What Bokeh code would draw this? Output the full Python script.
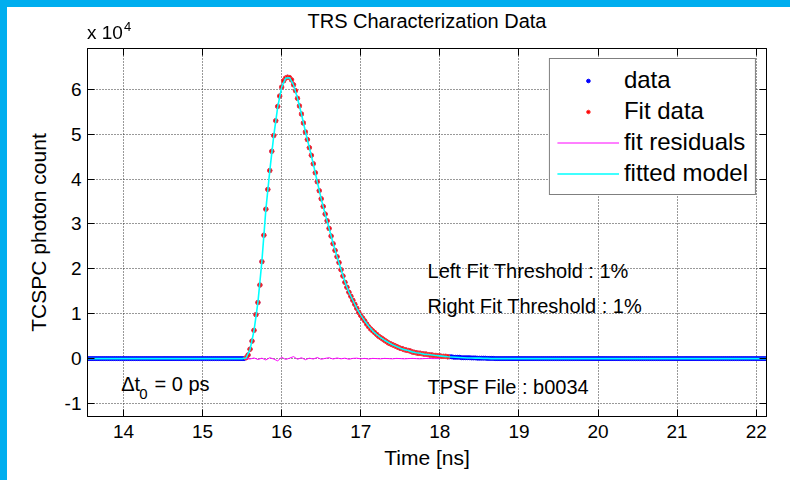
import numpy as np
from bokeh.plotting import figure
from bokeh.models import (Range1d, LinearAxis, FixedTicker, Label, Legend,
                          LegendItem, Div, CustomLabelingPolicy)
from bokeh.layouts import column
from bokeh.embed import file_html
from bokeh.resources import INLINE

FONT = "Liberation Sans"

TITLE = "TRS Characterization Data"

# ---------------- axes -----------------
x_ticks = [14, 15, 16, 17, 18, 19, 20, 21, 22]
y_ticks = [-10000, 0, 10000, 20000, 30000, 40000, 50000, 60000]
y_tick_labels = ["-1", "0", "1", "2", "3", "4", "5", "6"]
x_limits = [13.545, 22.13]
y_limits = [-12900, 69100]

# ---------------- data (photon counts) -----------------
BIN_NS = 0.025
data_start_ns = 13.55
data_end_ns = 22.125

# fit window, 0.025 ns bins starting at 15.55 ns
fit_start_ns = 15.55
fit_counts = [
    200, 800, 2100, 3900, 6300, 9800, 12500, 16400, 21600, 27500,
    33300, 37700, 41900, 46200, 49700, 53000, 56200, 58500, 60500, 61900,
    62500, 62700, 62600, 62100, 61000, 59700, 58000, 56300, 54500, 52500,
    50500, 48800, 47000, 45300, 43400, 41400, 39400, 37400, 35600, 33900,
    32200, 30700, 29000, 27300, 25600, 24100, 22700, 21400, 19800, 18400,
    17000, 15900, 14800, 13900, 13000, 12100, 11200, 10300, 9600, 9000,
    8400, 7700, 7100, 6600, 6200, 5800, 5400, 5000, 4700, 4400,
    4100, 3800, 3500, 3300, 3100, 2900, 2700, 2500, 2300, 2200,
    2000, 1900, 1800, 1700, 1500, 1400, 1300, 1200, 1200, 1100,
    1000, 1000, 900, 800, 800, 700, 700, 600, 600, 500,
    500, 500, 400,
]

# measured tail after the fit window, 0.025 ns bins from 18.125 ns
tail_start_ns = 18.125
tail_counts = [400, 400, 300, 300, 300, 300, 200, 200, 200, 200,
               200, 150, 150, 150, 100, 100, 100, 100, 100, 50,
               50, 50, 50, 0]

# fitted model, 0.05 ns steps from 15.50 ns
model_start_ns = 15.50
MODEL_STEP_NS = 0.05
model_counts = [
    0, 150, 2000, 6200, 12600, 21700, 33200, 41900, 49700, 56100,
    60500, 62500, 62600, 61000, 58000, 54500, 50600, 47000, 43400, 39400,
    35600, 32200, 29000, 25700, 22700, 19900, 17100, 14800, 13000, 11200,
    9700, 8400, 7200, 6200, 5400, 4700, 4100, 3600, 3100, 2700,
    2300, 2000, 1800, 1500, 1300, 1200, 1000, 900, 800, 700,
    600, 500, 400, 350, 300, 250, 200, 150, 150, 100,
    100, 50, 50, 0, 0,
]

# fit residuals, 0.05 ns steps from 15.55 ns
resid_start_ns = 15.55
RESID_STEP_NS = 0.05
resid_counts = [
    0, -100, 150, -200, 100, -300, 200, -100, -500, 300,
    -200, 100, 450, -150, 200, -250, 100, -100, 250, -150,
    50, 200, -100, 150, -50, 100, -150, 50, 100, -50,
    50, -100, 50, 0, -50, 50, 0, -50, 50, 0,
    -50, 0, 50, 0, -50, 0, 50, 0, 0, 0,
]

# ---------------- build series -----------------
n_data = int(round((data_end_ns - data_start_ns) / BIN_NS)) + 1
data_t = data_start_ns + BIN_NS * np.arange(n_data)
data_c = np.zeros(n_data)
i0 = int(round((fit_start_ns - data_start_ns) / BIN_NS))
data_c[i0:i0 + len(fit_counts)] = fit_counts
j0 = int(round((tail_start_ns - data_start_ns) / BIN_NS))
data_c[j0:j0 + len(tail_counts)] = tail_counts

fit_t = fit_start_ns + BIN_NS * np.arange(len(fit_counts))
model_t = np.concatenate([[x_limits[0]],
                          model_start_ns + MODEL_STEP_NS * np.arange(len(model_counts)),
                          [x_limits[1]]])
model_c = np.concatenate([[0], model_counts, [0]])
resid_t = resid_start_ns + RESID_STEP_NS * np.arange(len(resid_counts))

# ---------------- figure -----------------
p = figure(width=790, height=480, output_backend="svg", toolbar_location=None,
           x_range=Range1d(*x_limits), y_range=Range1d(*y_limits),
           min_border_left=87, min_border_right=24, min_border_top=48,
           min_border_bottom=64)
p.background_fill_color = "white"
p.border_fill_color = "white"
p.outline_line_color = "black"

bottom_ax = p.below[0]
left_ax = p.left[0]

r_data = p.scatter(data_t, data_c, size=4, marker="circle",
                   fill_color="#0000FF", line_color="#0000FF")
r_fit = p.scatter(fit_t, fit_counts, size=4.5, marker="circle",
                  fill_color="#FF0000", line_color="#FF4040")
r_res = p.line(resid_t, resid_counts, line_color="#FF00FF", line_width=1)
r_mod = p.line(model_t, model_c, line_color="#00FFFF", line_width=1.6)

top_ax = LinearAxis()
right_ax = LinearAxis()
p.add_layout(top_ax, "above")
p.add_layout(right_ax, "right")


def style_axis(ax, ticks, labels):
    ax.ticker = FixedTicker(ticks=ticks)
    ax.major_tick_in = 7
    ax.major_tick_out = 0
    ax.minor_tick_line_color = None
    ax.axis_line_color = "black"
    ax.major_tick_line_color = "black"
    ax.major_label_text_font = FONT
    ax.major_label_text_color = "black"
    ax.major_label_text_font_size = "19px"
    if not labels:
        ax.major_label_policy = CustomLabelingPolicy(code="return []")
        ax.major_label_text_font_size = "0px"
        ax.major_label_standoff = 0


style_axis(bottom_ax, x_ticks, True)
style_axis(top_ax, x_ticks, False)
style_axis(left_ax, y_ticks, True)
style_axis(right_ax, y_ticks, False)
left_ax.major_label_overrides = {t: l for t, l in zip(y_ticks, y_tick_labels)}
bottom_ax.major_label_standoff = 8
left_ax.major_label_standoff = 6

bottom_ax.axis_label = "Time [ns]"
left_ax.axis_label = "TCSPC photon count"
top_ax.axis_label = TITLE          # chart title, centred above the frame
for ax in (bottom_ax, left_ax, top_ax):
    ax.axis_label_text_font = FONT
    ax.axis_label_text_font_size = "21px"
    ax.axis_label_text_font_style = "normal"
    ax.axis_label_text_color = "black"
top_ax.axis_label_text_font_size = "20px"
top_ax.axis_label_standoff = 17
bottom_ax.axis_label_standoff = 5
left_ax.axis_label_standoff = 12

for g, t in ((p.xgrid, x_ticks), (p.ygrid, y_ticks)):
    g.ticker = FixedTicker(ticks=t)
    g.grid_line_color = "#333333"
    g.grid_line_dash = "1 2"
    g.grid_line_width = 1

legend = Legend(items=[
    LegendItem(label="data", renderers=[r_data]),
    LegendItem(label="Fit data", renderers=[r_fit]),
    LegendItem(label="fit residuals", renderers=[r_res]),
    LegendItem(label="fitted model", renderers=[r_mod]),
], location="top_right")
legend.margin = 10
legend.padding = 7
legend.spacing = 3
legend.glyph_width = 62
legend.glyph_height = 9
legend.label_height = 22
legend.label_standoff = 5
legend.label_text_font = FONT
legend.label_text_font_size = "24px"
legend.label_text_color = "black"
legend.border_line_color = "black"
legend.border_line_width = 1
legend.background_fill_color = "white"
legend.background_fill_alpha = 1
p.add_layout(legend)


def add_text(x, y, text, size="20px"):
    p.add_layout(Label(x=x, y=y, text=text, text_font=FONT, text_font_size=size,
                       text_color="black", text_baseline="middle", text_align="left"))


add_text(17.844, 19600, "Left Fit Threshold : 1%")
add_text(17.844, 11800, "Right Fit Threshold : 1%")
add_text(17.844, -6400, "TPSF File : b0034")
add_text(13.971, -5640, "\u0394t")
add_text(14.20, -7800, "0", size="15px")
add_text(14.392, -5640, "= 0 ps")

# window frame strips and the y-axis exponent (outside the plot frame)
frame_div = Div(
    text=('<div style="position:fixed;left:0;top:0;width:7px;height:480px;'
          'background:#00AEEF;z-index:1000"></div>'
          '<div style="position:fixed;left:0;top:0;width:790px;height:7px;'
          'background:#00AEEF;z-index:1000"></div>'
          '<div style="position:fixed;left:87px;top:23px;line-height:20px;'
          'font-family:\'Liberation Sans\';font-size:19px;color:black;z-index:1000;'
          'white-space:nowrap">x 10<span style="position:relative;top:-8px;'
          'font-size:13px;margin-left:1px">4</span></div>'),
    width=790, height=0)

page = column(p, frame_div, spacing=0)

open("out.html", "w").write(file_html(page, INLINE))
